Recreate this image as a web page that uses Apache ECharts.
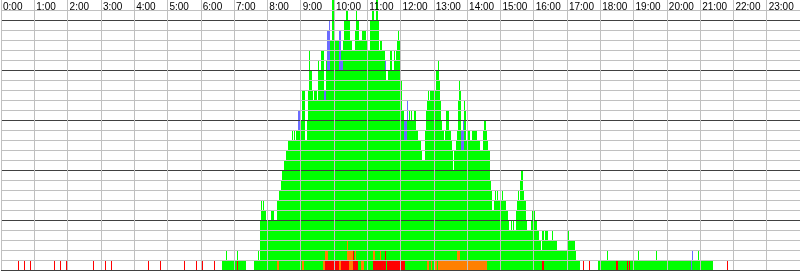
<!DOCTYPE html>
<html><head><meta charset="utf-8">
<script src="https://cdn.jsdelivr.net/npm/echarts@6/dist/echarts.min.js"></script>
<style>html,body{margin:0;padding:0;background:#fff}#c{width:800px;height:271px}</style>
</head><body><div id="c"></div>
<script>
// time is counted in slots of 1.8 minutes (800 slots per day)
const SLOT_MIN = 1.8;
const hourLabels = ['0:00','1:00','2:00','3:00','4:00','5:00','6:00','7:00','8:00','9:00','10:00','11:00',
  '12:00','13:00','14:00','15:00','16:00','17:00','18:00','19:00','20:00','21:00','22:00','23:00'];

// [startSlot, endSlot, count]  total count per slot
const totalCounts = [
[221,225,1],[225,226,2],[226,236,1],[236,237,2],[237,245,1],
[253,257,1],[257,258,2],[258,259,1],
[259,260,5],[260,261,7],[261,262,6],[262,263,7],[263,265,6],[265,270,5],[270,273,6],[273,276,5],
[276,278,7],[278,280,8],[280,281,9],[281,283,10],[283,285,11],[285,287,12],[287,291,13],
[291,292,14],[292,293,13],[293,294,14],[294,295,13],[295,297,14],[297,299,16],[299,301,15],
[301,304,18],[304,306,13],[306,307,15],[307,308,18],[308,309,22],[309,311,20],[311,312,18],[312,313,17],
[313,316,18],[316,317,17],[317,318,21],[318,320,20],[320,323,22],[323,325,18],
[325,326,21],[326,328,24],[328,329,25],[329,331,23],[331,333,27],[333,338,23],[338,340,24],[340,342,22],
[342,343,23],[343,345,25],[345,347,26],[347,349,25],[349,351,23],[351,354,22],[354,355,24],[355,356,26],
[356,358,25],[358,361,23],[361,365,24],[365,366,23],[366,369,22],[369,371,25],[371,373,26],[373,375,25],
[375,377,27],[377,378,25],[378,379,22],[379,381,23],[381,384,22],[384,385,21],[385,387,19],[387,389,20],
[389,391,22],[391,393,20],[393,394,22],[394,395,21],[395,396,22],[396,397,23],[397,398,24],[398,399,23],[399,400,24],
[400,401,19],[401,402,18],[402,404,16],[404,407,15],[407,408,17],[408,409,15],[409,410,16],[410,411,15],
[411,412,16],[412,414,15],[414,416,16],[416,418,14],[418,421,13],[421,422,12],[422,425,11],
[425,426,14],[426,427,16],[427,428,17],[428,429,18],[429,430,17],[430,436,18],[436,438,20],[438,439,21],
[439,440,19],[440,441,17],[441,442,15],[442,444,14],[444,445,13],[445,446,14],[446,449,16],[449,451,14],
[451,452,13],[452,453,12],[453,454,10],[454,456,12],[456,457,13],[457,458,14],[458,459,17],[459,460,19],
[460,461,18],[461,463,14],[463,464,15],[464,465,17],[465,466,16],[466,467,13],[467,470,14],[470,472,13],
[472,477,14],[477,480,13],[480,483,12],[483,484,14],[484,486,15],[486,487,14],[487,488,13],[488,490,12],
[490,491,9],[491,492,8],[492,494,6],[494,495,7],[495,496,8],[496,497,7],[497,498,8],[498,502,7],[502,503,8],
[503,506,7],[506,508,6],[508,509,5],[509,511,4],[511,512,5],[512,513,4],[513,514,5],[514,516,4],[516,517,6],
[517,518,7],[518,519,8],[519,520,7],[520,521,9],[521,523,10],[523,524,8],[524,526,7],[526,527,5],[527,531,4],
[531,532,5],[532,533,6],[533,534,5],[534,535,6],[535,537,5],[537,539,4],[539,541,3],[541,542,2],[542,544,4],
[544,545,3],[545,548,4],[548,552,3],[552,553,4],[553,557,3],[557,567,2],[567,569,4],[569,575,3],[575,576,2],
[576,580,1],
[598,607,1],[607,608,2],[608,638,1],[638,639,2],[639,656,1],[656,657,2],[657,698,1],[698,699,2],[699,713,1]
];

// [startSlot, endSlot, fromCount, toCount]
const blueRuns = [
[297,299,14,16],[323,325,17,18],[326,328,20,24],[328,329,20,25],[338,340,20,24],[340,342,20,21],
[384,385,20,21],[404,407,13,15],[407,408,15,17],[461,463,12,14],[463,464,12,15],[691,692,0,1],[692,693,1,2]
];
const redRuns = [
[17,18,0,1],[23,24,0,1],[29,30,0,1],[53,54,0,1],[59,60,0,1],[65,66,0,1],[92,93,0,1],[104,105,0,1],
[110,111,0,1],[147,148,0,1],[159,160,0,1],[183,184,0,1],[195,196,0,1],[201,202,0,1],[213,214,0,1],
[236,237,0,1],[324,338,0,1],[340,348,0,1],[352,357,0,1],[372,385,0,1],[386,400,0,1],[401,405,0,1],
[352,353,1,2],[384,385,1,2],[542,544,0,1],[583,584,0,1],[589,590,0,1],[616,618,0,1],[627,628,0,1],
[629,630,0,1],[727,728,0,1]
];
const orangeRuns = [
[276,278,0,1],[301,303,0,1],[322,324,0,1],[338,340,0,1],[348,352,0,1],[360,363,0,1],
[427,429,0,1],[431,432,0,1],[434,437,0,1],[438,487,0,1],
[324,327,1,2],[346,352,1,2],[354,355,1,2],[372,374,1,2],[379,380,1,2],[457,460,1,2],[346,347,2,3]
];

function toMinutes(runs, withBase) {
  return runs.map(r => withBase
    ? [r[0] * SLOT_MIN, r[1] * SLOT_MIN, 0, r[2]]
    : [r[0] * SLOT_MIN, r[1] * SLOT_MIN, r[2], r[3]]);
}

function renderRect(params, api) {
  const a = api.coord([api.value(0), api.value(3)]);
  const b = api.coord([api.value(1), api.value(2)]);
  const x0 = Math.round(a[0]), x1 = Math.round(b[0]);
  const y0 = Math.round(a[1]), y1 = Math.round(b[1]);
  return {
    type: 'rect',
    shape: { x: x0, y: y0, width: Math.max(1, x1 - x0), height: y1 - y0 },
    style: { fill: api.visual('color') }
  };
}

function rectSeries(name, runs, color, z, withBase) {
  return {
    type: 'custom', name: name, renderItem: renderRect, z: z, silent: true,
    itemStyle: { color: color },
    encode: { x: [0, 1], y: [2, 3] },
    data: toMinutes(runs, withBase)
  };
}

const chart = echarts.init(document.getElementById('c'), null, { renderer: 'canvas' });
chart.setOption({
  animation: false,
  backgroundColor: '#ffffff',
  grid: { left: 0, right: 0, top: 0, height: 270, containLabel: false },
  xAxis: {
    type: 'value', position: 'top', min: 0, max: 1440, interval: 60, z: 10,
    axisLine: { show: false }, axisTick: { show: false },
    splitLine: { show: true, lineStyle: { color: '#c0c0c0', width: 1 } },
    axisLabel: {
      inside: true, margin: 2, align: 'left', verticalAlign: 'top', padding: [0, 0, 0, 2],
      color: '#000', fontSize: 10, fontFamily: '"Liberation Sans Narrow", "Liberation Sans", Arial, sans-serif',
      showMaxLabel: false,
      formatter: v => hourLabels[Math.round(v / 60)] || ''
    }
  },
  yAxis: {
    type: 'value', min: 0, max: 27, interval: 1, z: 10,
    axisLine: { show: false }, axisTick: { show: false }, axisLabel: { show: false },
    splitLine: { show: true, showMaxLine: false,
      lineStyle: { width: 1, color: ['#404040', '#c0c0c0', '#c0c0c0', '#c0c0c0', '#c0c0c0'] } }
  },
  series: [
    rectSeries('total', totalCounts, '#00ff00', 2, true),
    rectSeries('blue', blueRuns, '#6b6bff', 3, false),
    rectSeries('red', redRuns, '#ff0000', 4, false),
    rectSeries('orange', orangeRuns, '#ff8000', 4, false)
  ]
});
</script>
</body></html>
